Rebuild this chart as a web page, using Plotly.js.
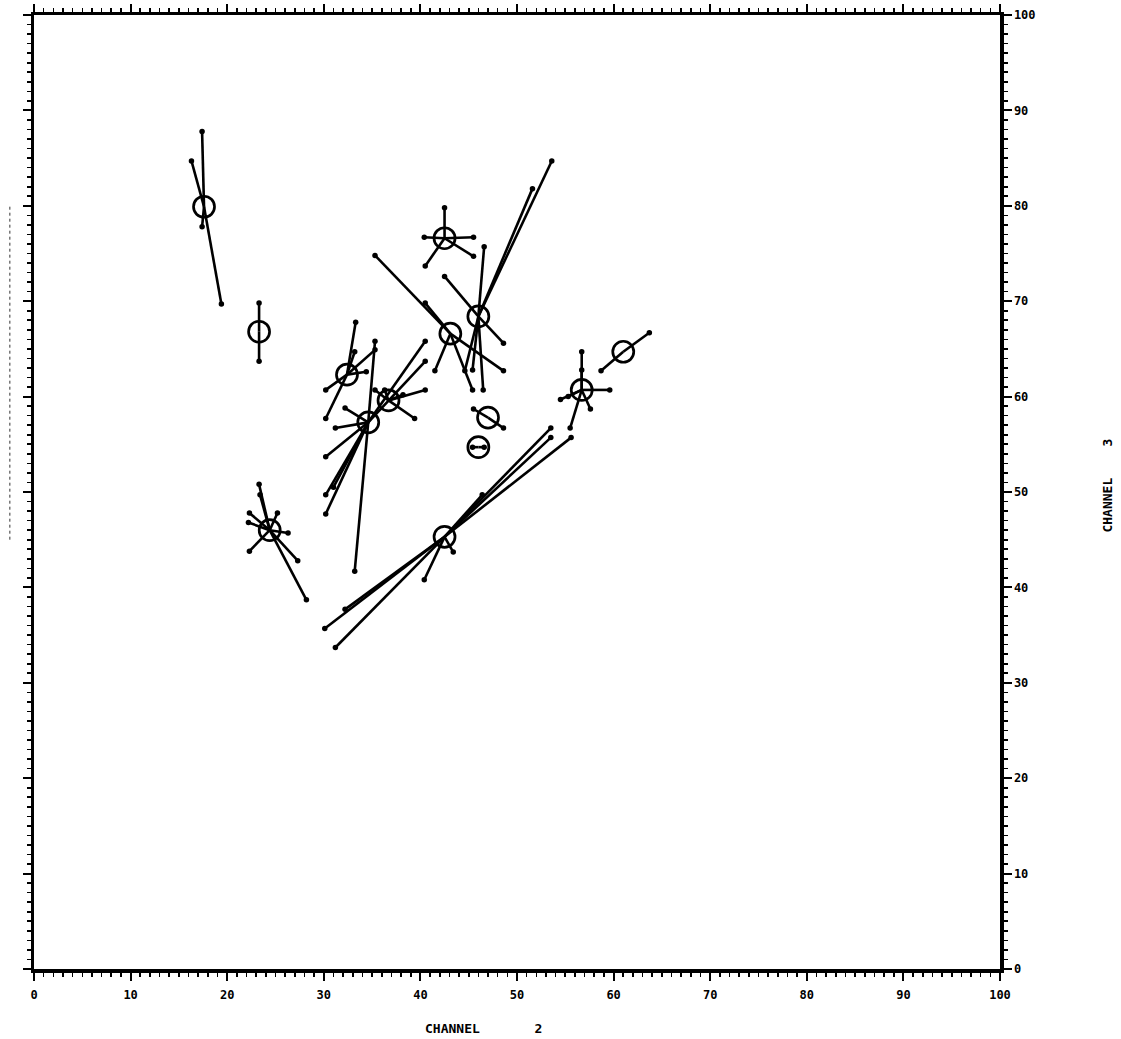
<!DOCTYPE html>
<html>
<head>
<meta charset="utf-8">
<script src="https://cdn.plot.ly/plotly-3.0.1.min.js"></script>
<style>
  html, body { margin: 0; padding: 0; background: #fff; }
  #chart { width: 1121px; height: 1039px; }
</style>
</head>
<body>
<div id="chart"></div>
<script>
// Cluster centres (channel 2, channel 3) and the member samples joined to each centre.
const clusterIds = ["A", "B", "C", "D", "E", "G", "H", "I", "J", "K", "L", "M", "N", "O"];

const centerCh2 = [17.6, 23.3, 42.5, 43.1, 46.0, 32.4, 34.6, 36.7, 47.0, 46.0, 56.7, 61.0, 24.4, 42.5];
const centerCh3 = [79.9, 66.8, 76.6, 66.6, 68.4, 62.3, 57.3, 59.6, 57.8, 54.7, 60.7, 64.7, 46.0, 45.3];

const memberCh2 = [
  [17.4, 16.3, 19.4, 17.4],
  [23.3, 23.3],
  [42.5, 40.4, 45.5, 40.5, 45.5],
  [35.3, 40.5, 41.5, 48.6, 45.4],
  [53.6, 51.6, 46.6, 42.5, 48.6, 46.5, 44.6, 45.4],
  [33.3, 35.3, 33.2, 34.4, 30.2, 30.2],
  [35.3, 40.5, 40.5, 33.2, 30.2, 30.2, 31.0, 30.2, 31.2, 32.2],
  [40.5, 39.4, 35.3, 36.3, 38.2],
  [45.5, 48.6],
  [45.4, 46.6],
  [56.7, 56.7, 59.6, 54.5, 55.3, 57.6, 55.5],
  [63.7, 58.7],
  [23.3, 23.4, 22.3, 22.2, 25.2, 26.3, 22.3, 27.3, 28.2],
  [53.5, 53.5, 55.6, 46.4, 30.1, 31.2, 32.2, 40.4, 43.4]
];
const memberCh3 = [
  [87.8, 84.7, 69.7, 77.8],
  [69.8, 63.7],
  [79.8, 76.7, 76.7, 73.7, 74.7],
  [74.8, 69.8, 62.7, 62.7, 60.7],
  [84.7, 81.8, 75.7, 72.6, 65.6, 60.7, 62.7, 62.8],
  [67.8, 64.9, 64.7, 62.6, 60.7, 57.7],
  [65.8, 65.8, 63.7, 41.7, 53.7, 49.7, 50.5, 47.7, 56.7, 58.8],
  [60.7, 57.7, 60.7, 60.7, 60.2],
  [58.7, 56.7],
  [54.7, 54.7],
  [64.7, 62.8, 60.7, 59.7, 60.0, 58.7, 56.7],
  [66.7, 62.7],
  [50.8, 49.7, 47.8, 46.8, 47.8, 45.7, 43.8, 42.8, 38.7],
  [56.7, 55.7, 55.7, 49.7, 35.7, 33.7, 37.7, 40.8, 43.7]
];

const xTickValues = [0, 10, 20, 30, 40, 50, 60, 70, 80, 90, 100];
const yTickValues = [0, 10, 20, 30, 40, 50, 60, 70, 80, 90, 100];
const xTitleText = "CHANNEL       2";
const yTitleText = "CHANNEL    3";

// Spokes: one segment from every centre to each of its members, gaps between segments.
const spokeX = [], spokeY = [], dotX = [], dotY = [];
clusterIds.forEach((id, i) => {
  memberCh2[i].forEach((mx, j) => {
    const my = memberCh3[i][j];
    spokeX.push(centerCh2[i], mx, null);
    spokeY.push(centerCh3[i], my, null);
    dotX.push(mx);
    dotY.push(my);
  });
});

const ink = "#000";
const tickFont = { family: "DejaVu Sans Mono", size: 12, color: ink, weight: "bold" };

const traces = [
  {
    type: "scatter", mode: "lines", x: spokeX, y: spokeY,
    line: { color: ink, width: 2.6 }, connectgaps: false, hoverinfo: "skip"
  },
  {
    type: "scatter", mode: "markers", x: dotX, y: dotY,
    marker: { color: ink, size: 5.5, symbol: "circle" }, hoverinfo: "skip"
  },
  {
    type: "scatter", mode: "markers", x: centerCh2, y: centerCh3, text: clusterIds,
    marker: { symbol: "circle-open", size: 21, color: ink, line: { color: ink, width: 2.7 } },
    hoverinfo: "text"
  }
];

const axisCommon = {
  range: [0, 100],
  tickmode: "array",
  showgrid: false,
  zeroline: false,
  showline: true,
  linecolor: ink,
  linewidth: 3.5,
  mirror: "ticks",
  ticks: "outside",
  ticklen: 8,
  tickwidth: 2,
  tickcolor: ink,
  tickfont: tickFont,
  minor: { ticks: "outside", dtick: 1, tick0: 0, ticklen: 4, tickwidth: 1.6, tickcolor: ink, showgrid: false }
};

const layout = {
  width: 1121,
  height: 1039,
  margin: { l: 34, r: 121, t: 15, b: 70 },
  paper_bgcolor: "#fff",
  plot_bgcolor: "#fff",
  showlegend: false,
  xaxis: Object.assign({}, axisCommon, {
    tickvals: xTickValues, ticktext: xTickValues.map(String), side: "bottom", ticklabelstandoff: 4
  }),
  yaxis: Object.assign({}, axisCommon, {
    tickvals: yTickValues, ticktext: yTickValues.map(String), side: "right"
  }),
  annotations: [
    {
      xref: "paper", yref: "paper", x: 0.465, y: -0.062,
      text: xTitleText, showarrow: false, xanchor: "center", yanchor: "middle",
      font: { family: "DejaVu Sans Mono", size: 13, color: ink, weight: "bold" }
    },
    {
      xref: "paper", yref: "paper", x: 1.111, y: 0.507,
      text: yTitleText, showarrow: false, textangle: -90, xanchor: "center", yanchor: "middle",
      font: { family: "DejaVu Sans Mono", size: 13, color: ink, weight: "bold" }
    }
  ],
  shapes: [
    {
      // faint dotted rule in the left margin
      type: "line", xref: "paper", yref: "paper",
      x0: -0.025, x1: -0.025, y0: 0.45, y1: 0.80,
      line: { color: "#333", width: 1, dash: "dot" }
    }
  ]
};

Plotly.newPlot("chart", traces, layout, { displayModeBar: false, staticPlot: true });
</script>
</body>
</html>
